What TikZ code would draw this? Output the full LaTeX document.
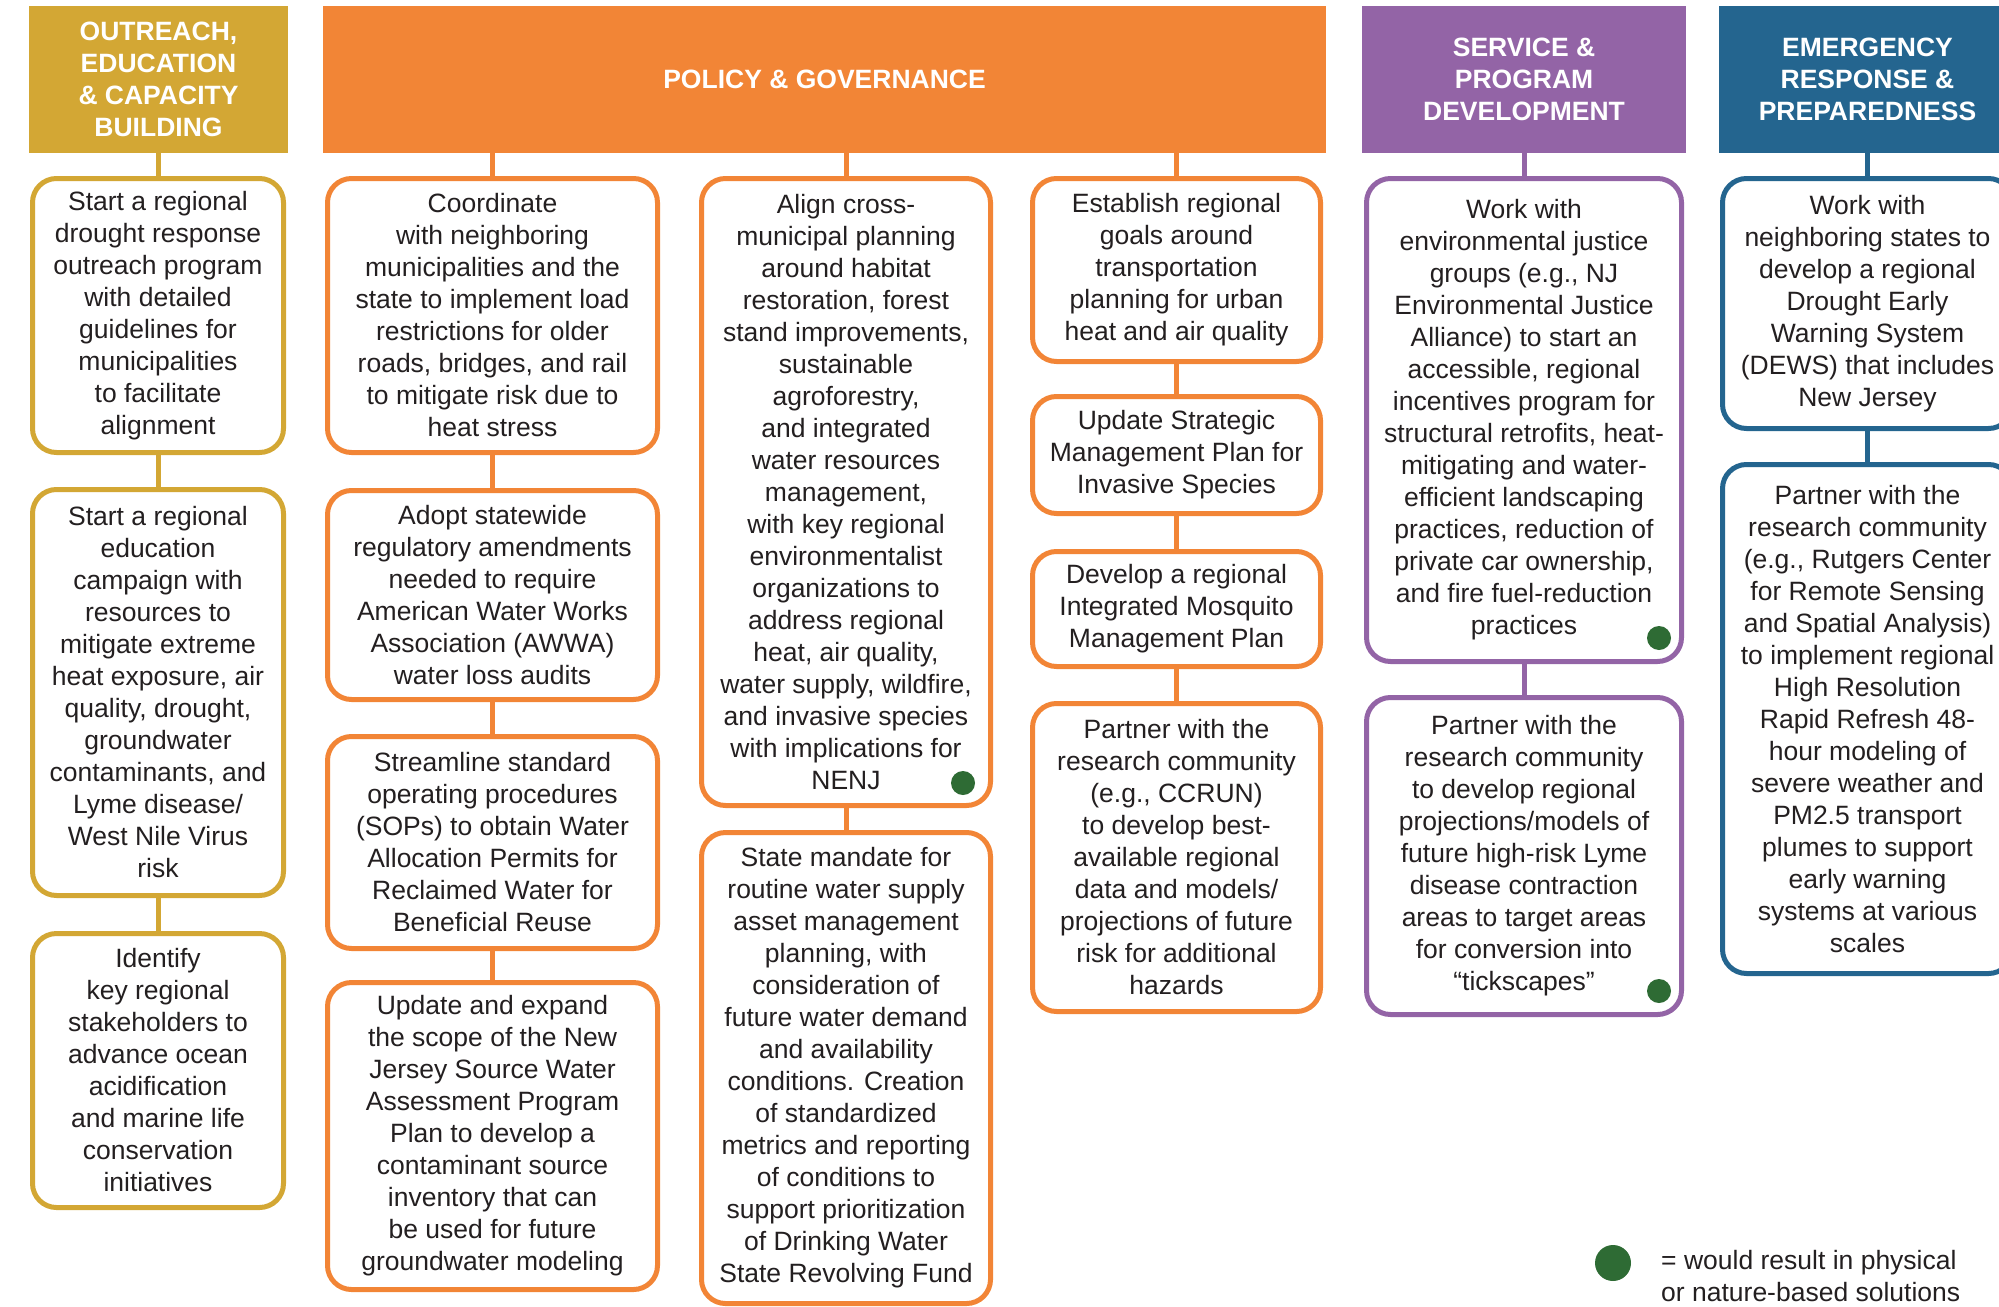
\documentclass[tikz,border=0pt]{standalone}
\usepackage{fontspec}
\setmainfont{Liberation Sans}
\definecolor{goldc}{RGB}{211,167,52}
\definecolor{orangec}{RGB}{242,133,54}
\definecolor{purplec}{RGB}{147,100,166}
\definecolor{bluec}{RGB}{36,101,143}
\definecolor{dotgreen}{RGB}{46,107,52}
\definecolor{txt}{RGB}{35,31,32}
\begin{document}
\begin{tikzpicture}[x=1pt,y=-1pt,
  card/.style={draw, line width=5pt, rounded corners=24pt, fill=white, align=center, inner sep=0pt, text=txt, font=\fontsize{26.5}{32}\selectfont},
  head/.style={inner sep=0pt, align=center, text=white, font=\bfseries\fontsize{26.5}{32}\selectfont},
  conn/.style={line width=5pt},
  gdot/.style={circle, fill=dotgreen, inner sep=0pt, minimum size=24pt},
  legtxt/.style={align=left, inner sep=0pt, text=txt, font=\fontsize{26.5}{32}\selectfont}]
\useasboundingbox (0,0) rectangle (1999,1306);
\clip (0,0) rectangle (1999,1306);

% headers
\node[head, fill=goldc, minimum width=259pt, minimum height=147pt] (hg) at (158.5,79.5) {OUTREACH,\\EDUCATION\\\& CAPACITY\\BUILDING};
\node[head, fill=orangec, minimum width=1003pt, minimum height=147pt] (ho) at (824.5,79.5) {POLICY \& GOVERNANCE};
\node[head, fill=purplec, minimum width=324pt, minimum height=147pt] (hp) at (1524,79.5) {SERVICE \&\\PROGRAM\\DEVELOPMENT};
\node[head, fill=bluec, minimum width=297pt, minimum height=147pt] (hb) at (1867.5,79.5) {EMERGENCY\\RESPONSE \&\\PREPAREDNESS};

% gold column
\node[card, draw=goldc, minimum width=251pt, minimum height=274pt] (g1) at (158,315.5) {Start a regional\\drought response\\outreach program\\with detailed\\guidelines for\\municipalities\\to facilitate\\alignment};
\node[card, draw=goldc, minimum width=251pt, minimum height=406pt] (g2) at (158,692.5) {Start a regional\\education\\campaign with\\resources to\\mitigate extreme\\heat exposure, air\\quality, drought,\\groundwater\\contaminants, and\\Lyme disease/\\West Nile Virus\\risk};
\node[card, draw=goldc, minimum width=251pt, minimum height=274pt] (g3) at (158,1070.5) {Identify\\key regional\\stakeholders to\\advance ocean\\acidification\\and marine life\\conservation\\initiatives};

% orange column A
\node[card, draw=orangec, minimum width=330pt, minimum height=274pt] (a1) at (492.5,315.5) {Coordinate\\with neighboring\\municipalities and the\\state to implement load\\restrictions for older\\roads, bridges, and rail\\to mitigate risk due to\\heat stress};
\node[card, draw=orangec, minimum width=330pt, minimum height=209pt] (a2) at (492.5,595) {Adopt statewide\\regulatory amendments\\needed to require\\American Water Works\\Association (AWWA)\\water loss audits};
\node[card, draw=orangec, minimum width=330pt, minimum height=212pt] (a3) at (492.5,842.5) {Streamline standard\\operating procedures\\(SOPs) to obtain Water\\Allocation Permits for\\Reclaimed Water for\\Beneficial Reuse};
\node[card, draw=orangec, minimum width=330pt, minimum height=307pt] (a4) at (492.5,1136) {Update and expand\\the scope of the New\\Jersey Source Water\\Assessment Program\\Plan to develop a\\contaminant source\\inventory that can\\be used for future\\groundwater modeling};

% orange column B
\node[card, draw=orangec, minimum width=289pt, minimum height=627pt] (b1) at (846,492) {Align cross-\\municipal planning\\around habitat\\restoration, forest\\stand improvements,\\sustainable\\agroforestry,\\and integrated\\water resources\\management,\\with key regional\\environmentalist\\organizations to\\address regional\\heat, air quality,\\water supply, wildfire,\\and invasive species\\with implications for\\NENJ};
\node[card, draw=orangec, minimum width=289pt, minimum height=471pt] (b2) at (846,1068) {State mandate for\\routine water supply\\asset management\\planning, with\\consideration of\\future water demand\\and availability\\conditions. Creation\\of standardized\\metrics and reporting\\of conditions to\\support prioritization\\of Drinking Water\\State Revolving Fund};

% orange column C
\node[card, draw=orangec, minimum width=288pt, minimum height=183pt] (c1) at (1176.5,270) {Establish regional\\goals around\\transportation\\planning for urban\\heat and air quality};
\node[card, draw=orangec, minimum width=288pt, minimum height=117pt] (c2) at (1176.5,455) {Update Strategic\\Management Plan for\\Invasive Species};
\node[card, draw=orangec, minimum width=288pt, minimum height=115pt] (c3) at (1176.5,609) {Develop a regional\\Integrated Mosquito\\Management Plan};
\node[card, draw=orangec, minimum width=288pt, minimum height=308pt] (c4) at (1176.5,857.5) {Partner with the\\research community\\(e.g., CCRUN)\\to develop best-\\available regional\\data and models/\\projections of future\\risk for additional\\hazards};

% purple column
\node[card, draw=purplec, minimum width=315pt, minimum height=483pt] (p1) at (1524,420) {Work with\\environmental justice\\groups (e.g., NJ\\Environmental Justice\\Alliance) to start an\\accessible, regional\\incentives program for\\structural retrofits, heat-\\mitigating and water-\\efficient landscaping\\practices, reduction of\\private car ownership,\\and fire fuel-reduction\\practices};
\node[card, draw=purplec, minimum width=315pt, minimum height=317pt] (p2) at (1524,856) {Partner with the\\research community\\to develop regional\\projections/models of\\future high-risk Lyme\\disease contraction\\areas to target areas\\for conversion into\\“tickscapes”};

% blue column
\node[card, draw=bluec, minimum width=290pt, minimum height=250pt] (e1) at (1867.5,303.5) {Work with\\neighboring states to\\develop a regional\\Drought Early\\Warning System\\(DEWS) that includes\\New Jersey};
\node[card, draw=bluec, minimum width=290pt, minimum height=509pt] (e2) at (1867.5,719) {Partner with the\\research community\\(e.g., Rutgers Center\\for Remote Sensing\\and Spatial Analysis)\\to implement regional\\High Resolution\\Rapid Refresh 48-\\hour modeling of\\severe weather and\\PM2.5 transport\\plumes to support\\early warning\\systems at various\\scales};

% connectors
\draw[conn, goldc] (g1.north |- hg.south) -- (g1.north);
\draw[conn, goldc] (g1.south) -- (g2.north);
\draw[conn, goldc] (g2.south) -- (g3.north);
\draw[conn, orangec] (a1.north |- ho.south) -- (a1.north);
\draw[conn, orangec] (a1.south) -- (a2.north);
\draw[conn, orangec] (a2.south) -- (a3.north);
\draw[conn, orangec] (a3.south) -- (a4.north);
\draw[conn, orangec] (b1.north |- ho.south) -- (b1.north);
\draw[conn, orangec] (b1.south) -- (b2.north);
\draw[conn, orangec] (c1.north |- ho.south) -- (c1.north);
\draw[conn, orangec] (c1.south) -- (c2.north);
\draw[conn, orangec] (c2.south) -- (c3.north);
\draw[conn, orangec] (c3.south) -- (c4.north);
\draw[conn, purplec] (p1.north |- hp.south) -- (p1.north);
\draw[conn, purplec] (p1.south) -- (p2.north);
\draw[conn, bluec] (e1.north |- hb.south) -- (e1.north);
\draw[conn, bluec] (e1.south) -- (e2.north);

% green dots
\node[gdot] (d1) at (963,783) {};
\node[gdot] (d2) at (1659,638) {};
\node[gdot] (d3) at (1659,991) {};

% legend
\node[gdot, minimum size=36pt] (ld) at (1613,1263) {};
\node[legtxt, anchor=west] (lt) at (1661,1276) {= would result in physical\\or nature-based solutions};
\end{tikzpicture}
\end{document}
